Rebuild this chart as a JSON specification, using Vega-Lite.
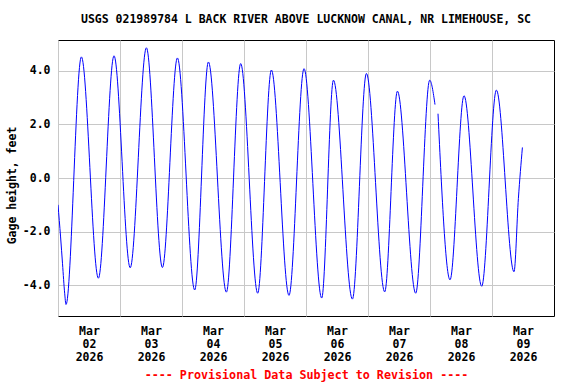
{
  "$schema": "https://vega.github.io/schema/vega-lite/v6.json",
  "width": 496,
  "height": 276,
  "autosize": "none",
  "padding": {"left": 58, "top": 40, "right": 22, "bottom": 68},
  "background": "white",
  "title": {
    "text": "USGS 021989784 L BACK RIVER ABOVE LUCKNOW CANAL, NR LIMEHOUSE, SC",
    "anchor": "middle",
    "font": "DejaVu Sans Mono",
    "fontSize": 11.5,
    "fontWeight": "bold",
    "color": "black",
    "baseline": "alphabetic",
    "offset": 6
  },
  "config": {
    "view": {"stroke": "black", "strokeWidth": 1},
    "axis": {
      "labelFont": "DejaVu Sans Mono",
      "labelFontSize": 11.5,
      "labelFontWeight": "bold",
      "labelColor": "black",
      "titleFont": "DejaVu Sans Mono",
      "titleFontSize": 11.5,
      "titleFontWeight": "bold",
      "titleColor": "black",
      "gridColor": "#c8c8c8",
      "gridWidth": 1,
      "gridOpacity": 1,
      "domain": false,
      "ticks": false
    }
  },
  "data": {
    "values": [
      {"t": "2026-03-02T00:00Z", "v": -1.0},
      {"t": "2026-03-02T01:00Z", "v": -2.2},
      {"t": "2026-03-02T01:45Z", "v": -3.2},
      {"t": "2026-03-02T02:35Z", "v": -4.3},
      {"t": "2026-03-02T03:06Z", "v": -4.72},
      {"t": "2026-03-02T09:03Z", "v": 4.52},
      {"t": "2026-03-02T15:38Z", "v": -3.74},
      {"t": "2026-03-02T21:41Z", "v": 4.56},
      {"t": "2026-03-03T03:57Z", "v": -3.35},
      {"t": "2026-03-03T10:13Z", "v": 4.86},
      {"t": "2026-03-03T16:25Z", "v": -3.34},
      {"t": "2026-03-03T22:13Z", "v": 4.48},
      {"t": "2026-03-04T04:55Z", "v": -4.18},
      {"t": "2026-03-04T10:13Z", "v": 4.33},
      {"t": "2026-03-04T17:11Z", "v": -4.26},
      {"t": "2026-03-04T22:43Z", "v": 4.27},
      {"t": "2026-03-05T05:18Z", "v": -4.3},
      {"t": "2026-03-05T10:36Z", "v": 4.03},
      {"t": "2026-03-05T17:25Z", "v": -4.38},
      {"t": "2026-03-05T23:14Z", "v": 4.08},
      {"t": "2026-03-06T06:05Z", "v": -4.48},
      {"t": "2026-03-06T10:37Z", "v": 3.65},
      {"t": "2026-03-06T17:58Z", "v": -4.52},
      {"t": "2026-03-06T23:23Z", "v": 3.9},
      {"t": "2026-03-07T06:28Z", "v": -4.25},
      {"t": "2026-03-07T11:23Z", "v": 3.24},
      {"t": "2026-03-07T18:28Z", "v": -4.3},
      {"t": "2026-03-07T23:53Z", "v": 3.65},
      {"t": "2026-03-08T01:56Z", "v": 2.74},
      {"t": "2026-03-08T02:30Z", "v": null},
      {"t": "2026-03-08T03:06Z", "v": 2.4},
      {"t": "2026-03-08T07:45Z", "v": -3.8},
      {"t": "2026-03-08T13:10Z", "v": 3.07},
      {"t": "2026-03-08T20:01Z", "v": -4.04},
      {"t": "2026-03-09T01:42Z", "v": 3.28},
      {"t": "2026-03-09T08:31Z", "v": -3.5},
      {"t": "2026-03-09T10:13Z", "v": -0.76},
      {"t": "2026-03-09T11:46Z", "v": 1.14}
    ]
  },
  "mark": {
    "type": "line",
    "color": "#0000ff",
    "strokeWidth": 1,
    "interpolate": "monotone",
    "invalid": "break-paths-show-domains",
    "clip": true
  },
  "encoding": {
    "x": {
      "field": "t",
      "type": "temporal",
      "scale": {
        "type": "utc",
        "domain": [
          {"year": 2026, "month": 3, "date": 2, "utc": true},
          {"year": 2026, "month": 3, "date": 10, "utc": true}
        ]
      },
      "axis": {
        "values": [
          {"year": 2026, "month": 3, "date": 2, "utc": true},
          {"year": 2026, "month": 3, "date": 3, "utc": true},
          {"year": 2026, "month": 3, "date": 4, "utc": true},
          {"year": 2026, "month": 3, "date": 5, "utc": true},
          {"year": 2026, "month": 3, "date": 6, "utc": true},
          {"year": 2026, "month": 3, "date": 7, "utc": true},
          {"year": 2026, "month": 3, "date": 8, "utc": true},
          {"year": 2026, "month": 3, "date": 9, "utc": true}
        ],
        "grid": true,
        "labelExpr": "[utcFormat(datum.value, '%b'), utcFormat(datum.value, '%d'), utcFormat(datum.value, '%Y')]",
        "labelOffset": 31,
        "labelFlush": false,
        "labelOverlap": false,
        "labelBound": false,
        "labelPadding": 9,
        "labelLineHeight": 13,
        "title": "---- Provisional Data Subject to Revision ----",
        "titleColor": "#ff0000",
        "titleFontSize": 11.7,
        "titlePadding": 7
      }
    },
    "y": {
      "field": "v",
      "type": "quantitative",
      "scale": {"domain": [-5.15, 5.15], "nice": false, "zero": false},
      "axis": {
        "values": [-4, -2, 0, 2, 4],
        "grid": true,
        "labelExpr": "datum.value < 0 ? '-' + format(-datum.value, '.1f') : format(datum.value, '.1f')",
        "labelPadding": 8,
        "title": "Gage height, feet",
        "titlePadding": 5,
        "titleY": 145
      }
    }
  }
}
